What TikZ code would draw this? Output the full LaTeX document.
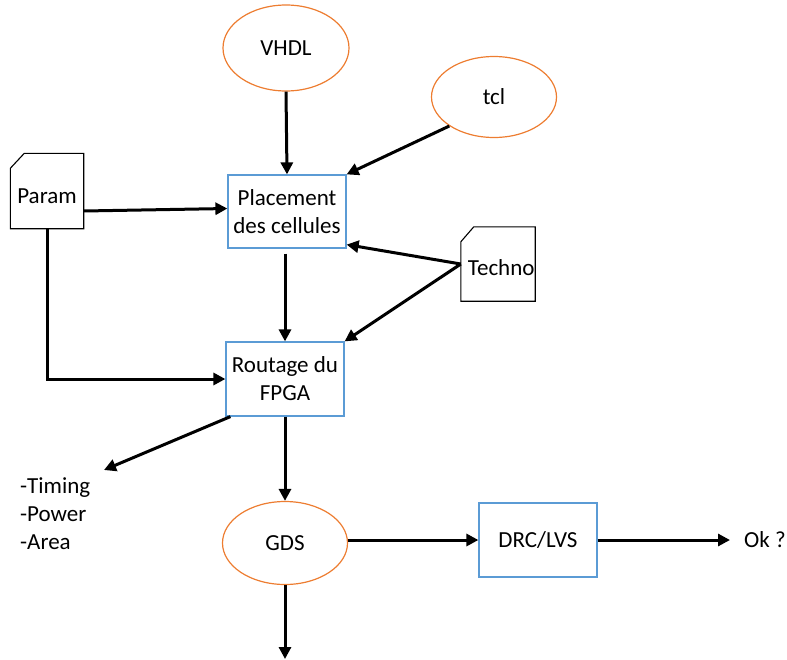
\documentclass[tikz,border=0pt]{standalone}
\usepackage{fontspec}
\setmainfont{Carlito}
\usetikzlibrary{shapes.geometric,arrows.meta}
\definecolor{boxblue}{HTML}{5B9BD5}
\definecolor{ellorange}{HTML}{ED7D31}
\begin{document}
\begin{tikzpicture}[x=1pt,y=-1pt,
  every node/.style={font=\fontsize{23}{28}\selectfont},
  ell/.style={ellipse,draw=ellorange,line width=1.2pt,inner sep=0pt},
  procbox/.style={rectangle,draw=boxblue,line width=1.2pt,align=center,inner sep=0pt},
  docnode/.style={rectangle,inner sep=0pt},
  docline/.style={draw=black,line width=1.1pt},
  flow/.style={line width=3pt,-{Triangle[length=12pt,width=12pt]}}]
\useasboundingbox (0,0) rectangle (787,659);
\node[ell,minimum width=126pt,minimum height=86pt] (vhdl) at (286,48) {VHDL};
\node[ell,minimum width=125pt,minimum height=81pt] (tcl) at (494,97) {tcl};
\node[procbox,minimum width=118pt,minimum height=73pt] (place) at (287,211.5) {Placement\\des cellules};
\node[procbox,minimum width=118pt,minimum height=74pt] (rout) at (285,379) {Routage du\\FPGA};
\node[ell,minimum width=125pt,minimum height=83pt] (gds) at (285,543) {GDS};
\node[procbox,minimum width=118pt,minimum height=74pt] (drc) at (538,540) {DRC/LVS};
\node[docnode,minimum width=73pt,minimum height=75pt,text height=29pt,text depth=5pt] (param) at (47,191) {Param};
\node[docnode,minimum width=74pt,minimum height=74pt,text width=73pt,align=right,text height=22pt,text depth=0pt] (techno) at (498,264) {Techno};
\node[anchor=west,inner sep=0pt] (ok) at (744,540) {Ok ?};
\node[anchor=north west,inner sep=0pt,align=left] (timing) at (20,477) {-Timing\\-Power\\-Area};
\coordinate (tend) at (104,470);
\coordinate (gend) at (285,659);
% document shapes
\draw[docline] ([yshift=-15pt]param.north west) -- ([xshift=14pt]param.north west) -- (param.north east) -- (param.south east) -- (param.south west) -- cycle;
\draw[docline] ([yshift=-15pt]techno.north west) -- ([xshift=13pt]techno.north west) -- (techno.north east) -- (techno.south east) -- (techno.south west) -- cycle;
% connectors
\draw[flow] (vhdl.south) -- (place.north);
\draw[flow] (tcl.213) -- (place.north east);
\draw[flow] ([yshift=-20pt]param.east) -- ([yshift=3pt]place.west);
\draw[flow] ([xshift=-2pt,yshift=-5pt]place.south) -- (rout.north);
\draw[flow] (techno.west) -- ([yshift=4pt]place.south east);
\draw[flow] (techno.west) -- (rout.north east);
\draw[flow] (param.south) |- (rout.west);
\draw[flow] ([xshift=5pt]rout.south west) -- (tend);
\draw[flow] (rout.south) -- (gds.north);
\draw[flow] ([yshift=3pt]gds.east) -- (drc.west);
\draw[flow] (drc.east) -- ([xshift=-14pt]ok.west);
\draw[flow] (gds.south) -- (gend);
\end{tikzpicture}
\end{document}
